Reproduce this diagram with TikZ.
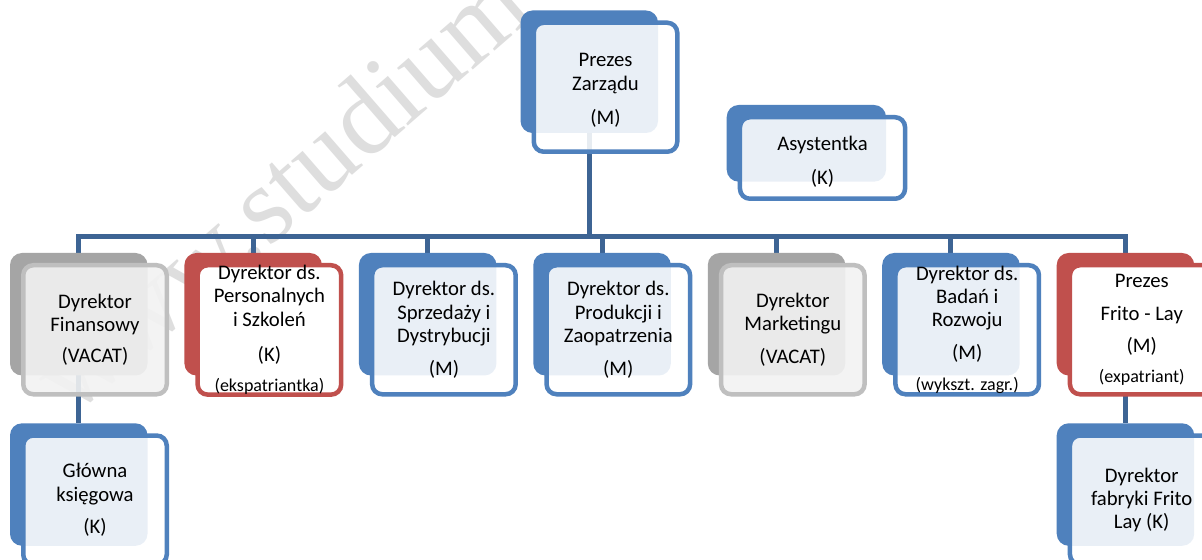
\documentclass[tikz,border=0pt]{standalone}
\usepackage{fontspec}
\setmainfont{Carlito}
\newfontfamily\wmfont{Liberation Serif}

\definecolor{accblue}{RGB}{79,129,189}
\definecolor{accred}{RGB}{192,80,77}
\definecolor{accgrey}{RGB}{165,165,165}
\definecolor{greyline}{RGB}{191,191,191}
\definecolor{greyfill}{RGB}{242,242,242}
\definecolor{linkblue}{RGB}{61,100,148}
\definecolor{wmgrey}{RGB}{222,222,222}

\newcommand\boxfont{\fontsize{10.35pt}{11.6pt}\selectfont}
\newcommand\notefont{\fontsize{9pt}{10pt}\selectfont}

\pgfdeclarelayer{behind}
\pgfsetlayers{behind,main}

\tikzset{
  back/.style={rounded corners=6pt, minimum width=68.75pt, minimum height=61.25pt,
    inner sep=0pt, outer sep=0pt, anchor=north west, draw=none},
  backblue/.style={back, fill=accblue},
  backred/.style={back, fill=accred},
  backgrey/.style={back, fill=accgrey},
  front/.style={rounded corners=5pt, minimum width=71.75pt, minimum height=64.5pt,
    inner sep=0pt, anchor=north west, line width=2.25pt, align=center,
    font=\boxfont, text=black, text opacity=1},
  frontblue/.style={front, draw=accblue, fill=white, fill opacity=0.88},
  frontred/.style={front, draw=accred, fill=white},
  frontgrey/.style={front, draw=greyline, fill=greyfill, fill opacity=0.9},
  boxtext/.style={align=center, font=\boxfont, text=black, inner sep=0pt},
  link/.style={draw=linkblue, line width=2.5pt},
  watermark/.style={font=\wmfont\fontsize{55pt}{60pt}\selectfont, text=wmgrey}
}

\begin{document}
\begin{tikzpicture}[x=0.5pt, y=-0.5pt]
\useasboundingbox (0,0) rectangle (1202,560);

% ---- top level
\node[backblue] (pz-b) at (520.5,10.5) {};
\node[frontblue] (pz) at (531.5,20.5) {};
\node[boxtext] (pz-t) at ([yshift=-1.5pt]pz.center) {Prezes\\ Zarządu\\[5.4pt](M)};

\node[backblue, minimum width=79.65pt, minimum height=38.35pt] (as-b) at (726.7,105) {};
\node[frontblue, minimum width=82.55pt, minimum height=40.75pt] (as) at (737.7,115) {};
\node[boxtext] (as-t) at ([yshift=-2pt]as.center) {Asystentka\\[5.4pt](K)};

% ---- directors
\node[backgrey] (fin-b) at (10,253) {};
\node[frontgrey] (fin) at (21,263) {Dyrektor\\ Finansowy\\[4.25pt](VACAT)};

\node[backred] (per-b) at (184.4,253) {};
\node[frontred] (per) at (195.4,263) {Dyrektor ds.\\ Personalnych\\ i Szkoleń\\[5.9pt](K)\\[3.75pt]{\notefont(ekspatriantka)}};

\node[backblue] (spr-b) at (358.9,253) {};
\node[frontblue] (spr) at (369.9,263) {Dyrektor ds.\\ Sprzedaży i\\ Dystrybucji\\[4.9pt](M)};

\node[backblue] (pro-b) at (533.3,253) {};
\node[frontblue] (pro) at (544.3,263) {Dyrektor ds.\\ Produkcji i\\ Zaopatrzenia\\[4.9pt](M)};

\node[backgrey] (mkt-b) at (707.8,253) {};
\node[frontgrey] (mkt) at (718.8,263) {Dyrektor\\ Marketingu\\[5.2pt](VACAT)};

\node[backblue] (bad-b) at (882.2,253) {};
\node[frontblue] (bad) at (893.2,263) {Dyrektor ds.\\ Badań i\\ Rozwoju\\[5pt](M)\\[3.75pt]{\notefont(wykszt. zagr.)}};

\node[backred] (fl-b) at (1056.7,253) {};
\node[frontred] (fl) at (1067.7,263) {Prezes\\[4.7pt]Frito - Lay\\[4.5pt](M)\\[3.4pt]{\notefont(expatriant)}};

% ---- third level
\node[backblue] (gl-b) at (10,423.3) {};
\node[frontblue] (gl) at (21,433.3) {Główna\\ księgowa\\[4.7pt](K)};

\node[backblue] (fab-b) at (1056.7,423.3) {};
\node[frontblue] (fab) at (1067.7,433.3) {Dyrektor\\ fabryki Frito\\ Lay (K)};

% ---- page, watermark and connectors underneath the boxes
\begin{pgfonlayer}{behind}
  \fill[white] (0,0) rectangle (1202,560);
  \node[watermark, rotate=41, anchor=base east] (wm) at (541,11) {www.studium};

  \coordinate (bus) at (0,237);
  \draw[link] (pz-b.south) -- (pz-b.south |- bus);
  \draw[link] (fin-b.north) |- (fl-b.north |- bus) -- (fl-b.north);
  \foreach \n in {per,spr,pro,mkt,bad}
    \draw[link] (\n-b.north) -- (\n-b.north |- bus);
  \draw[link] (fin-b.south) -- (gl-b.north);
  \draw[link] (fl-b.south) -- (fab-b.north);
\end{pgfonlayer}
\end{tikzpicture}
\end{document}
